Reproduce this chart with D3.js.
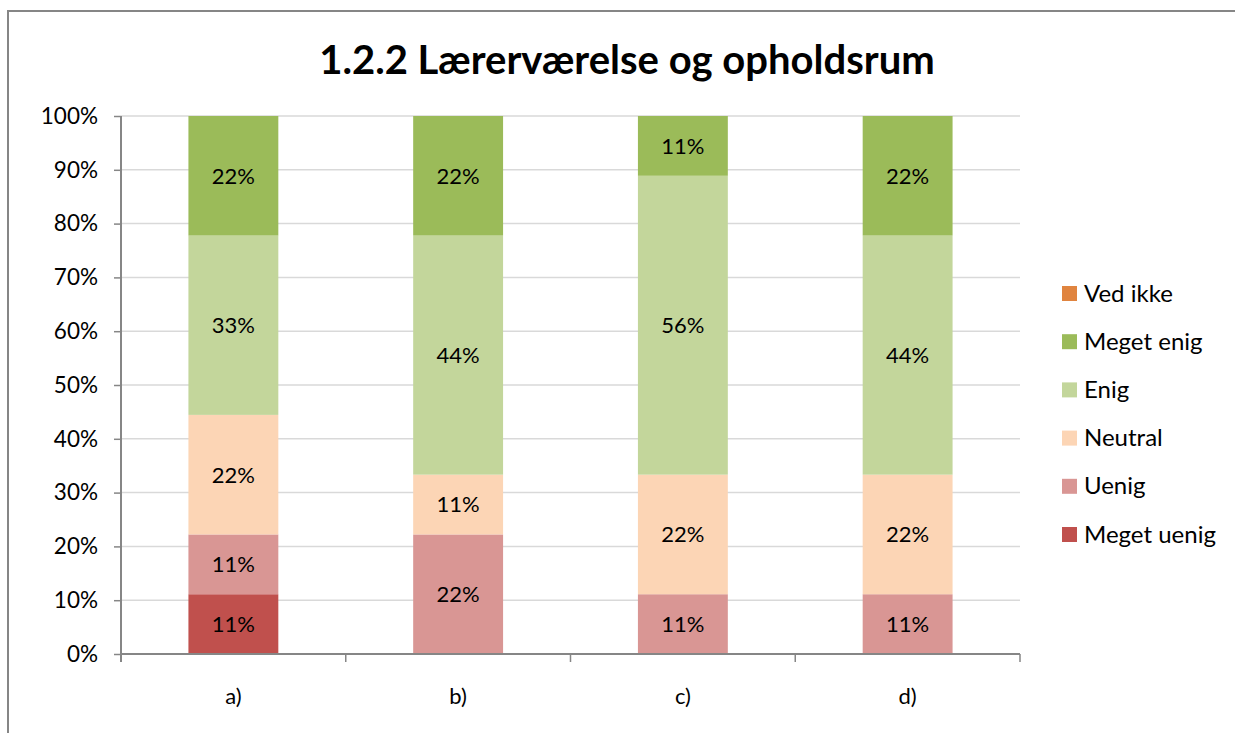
<!DOCTYPE html>
<html>
<head>
<meta charset="utf-8">
<script src="https://cdn.jsdelivr.net/npm/d3@7"></script>
<style>
  body { margin: 0; background: #fff; }
  text { font-family: Lato, "Open Sans", sans-serif; }
</style>
</head>
<body>
<script>
// respondent counts per answer (9 per question)
var categories = ["a)", "b)", "c)", "d)"];
var seriesNames = ["Meget uenig", "Uenig", "Neutral", "Enig", "Meget enig", "Ved ikke"];
var megetUenig = [1, 0, 0, 0];
var uenig      = [1, 2, 1, 1];
var neutral    = [2, 1, 2, 2];
var enig       = [3, 4, 5, 4];
var megetEnig  = [2, 2, 1, 2];
var vedIkke    = [0, 0, 0, 0];
var yTicks = [0, 0.1, 0.2, 0.3, 0.4, 0.5, 0.6, 0.7, 0.8, 0.9, 1];
var colors = ["#C0504D", "#D99694", "#FCD5B5", "#C3D69B", "#9BBB59", "#E0843F"];

var width = 1235, height = 733;
var svg = d3.select("body").append("svg")
    .attr("width", width)
    .attr("height", height);

svg.append("rect")
    .attr("x", 8).attr("y", 11)
    .attr("width", 1240).attr("height", 740)
    .attr("fill", "none")
    .attr("stroke", "#868686")
    .attr("stroke-width", 2);

svg.append("text")
    .attr("x", 627).attr("y", 74)
    .attr("text-anchor", "middle")
    .style("font-size", "40px")
    .style("font-weight", "bold")
    .text("1.2.2 Lærerværelse og opholdsrum");

var table = categories.map(function(c, i) {
  return {
    cat: c,
    "Meget uenig": megetUenig[i],
    "Uenig": uenig[i],
    "Neutral": neutral[i],
    "Enig": enig[i],
    "Meget enig": megetEnig[i],
    "Ved ikke": vedIkke[i]
  };
});

var stack = d3.stack()
    .keys(seriesNames)
    .offset(d3.stackOffsetExpand);
var layers = stack(table);

var plotLeft = 121, plotRight = 1020, plotTop = 116, plotBottom = 654;

var x = d3.scaleBand()
    .domain(categories)
    .range([plotLeft, plotRight])
    .paddingInner(0.6)
    .paddingOuter(0.3);

var xAxisScale = d3.scaleBand().domain(categories).range([plotLeft, plotRight]);

var y = d3.scaleLinear()
    .domain([0, 1])
    .range([plotBottom, plotTop]);

// gridlines
svg.append("g")
  .selectAll("line")
  .data(yTicks.slice(1))
  .enter().append("line")
    .attr("x1", plotLeft).attr("x2", plotRight)
    .attr("y1", function(d){ return y(d); })
    .attr("y2", function(d){ return y(d); })
    .attr("stroke", "#D9D9D9")
    .attr("stroke-width", 1.5);

var layer = svg.append("g")
  .selectAll("g")
  .data(layers)
  .enter().append("g")
    .attr("fill", function(d, i){ return colors[i]; });

layer.selectAll("rect")
  .data(function(d){ return d; })
  .enter().append("rect")
    .attr("x", function(d){ return x(d.data.cat); })
    .attr("width", x.bandwidth())
    .attr("y", function(d){ return y(d[1]); })
    .attr("height", function(d){ return y(d[0]) - y(d[1]); });

layer.selectAll("text")
  .data(function(d){ return d.filter(function(p){ return p[1] - p[0] > 0; }); })
  .enter().append("text")
    .attr("x", function(d){ return x(d.data.cat) + x.bandwidth() / 2; })
    .attr("y", function(d){ return (y(d[0]) + y(d[1])) / 2; })
    .attr("dy", "0.36em")
    .attr("text-anchor", "middle")
    .attr("fill", "#000")
    .style("font-size", "22px")
    .text(function(d){ return Math.round((d[1] - d[0]) * 100) + "%"; });

// y axis
var yAxis = svg.append("g")
    .attr("transform", "translate(" + plotLeft + ",0)")
    .call(d3.axisLeft(y).tickValues(yTicks).tickFormat(d3.format(".0%")).tickSize(7).tickPadding(16));
yAxis.select(".domain").attr("stroke", "#868686").attr("stroke-width", 2)
    .attr("d", "M0," + plotTop + "V" + (plotBottom + 8));
yAxis.selectAll(".tick line").attr("stroke", "#868686").attr("stroke-width", 1.5);
yAxis.selectAll(".tick text").style("font-size", "22.5px").attr("fill", "#000")
    .style("font-family", "Lato, sans-serif");

// x axis
var xAxis = svg.append("g")
    .attr("transform", "translate(0," + plotBottom + ")")
    .call(d3.axisBottom(xAxisScale).tickSize(0).tickPadding(34));
xAxis.select(".domain").attr("stroke", "#868686").attr("stroke-width", 2)
    .attr("d", "M" + plotLeft + ",0H" + plotRight);
xAxis.selectAll(".tick text").style("font-size", "22px").attr("fill", "#000")
    .style("font-family", "Lato, sans-serif");

svg.append("g")
  .selectAll("line")
  .data(categories.concat(["end"]))
  .enter().append("line")
    .attr("x1", function(d, i){ return i < categories.length ? xAxisScale(d) : plotRight; })
    .attr("x2", function(d, i){ return i < categories.length ? xAxisScale(d) : plotRight; })
    .attr("y1", plotBottom).attr("y2", plotBottom + 8)
    .attr("stroke", "#868686")
    .attr("stroke-width", 1.5);

// legend, top entry is last series
var legendItems = seriesNames.slice().reverse();
var legend = svg.append("g")
  .selectAll("g")
  .data(legendItems)
  .enter().append("g")
    .attr("transform", function(d, i){ return "translate(1062," + (293 + i * 48.2) + ")"; });

legend.append("rect")
    .attr("x", 0).attr("y", -7)
    .attr("width", 15).attr("height", 15)
    .attr("fill", function(d){ return colors[seriesNames.indexOf(d)]; });

legend.append("text")
    .attr("x", 22).attr("y", 0)
    .attr("dy", "0.36em")
    .style("font-size", "24px")
    .text(function(d){ return d; });
</script>
</body>
</html>
